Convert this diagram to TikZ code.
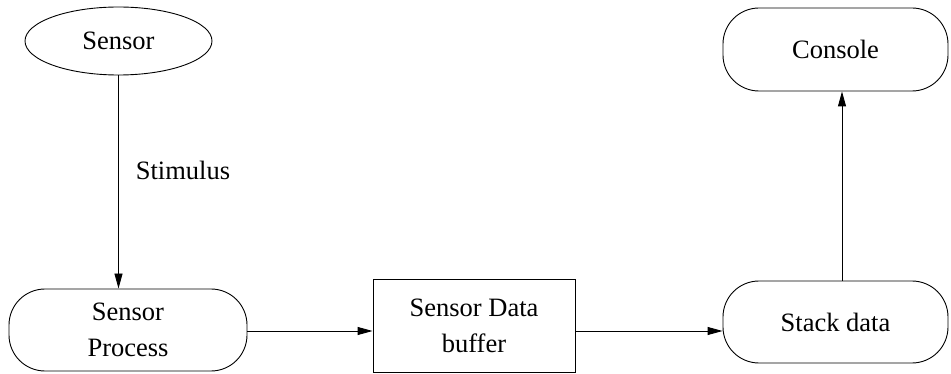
\documentclass[tikz,border=0pt]{standalone}
\usepackage{fontspec}
\setmainfont{Liberation Serif}
\usetikzlibrary{arrows.meta,shapes.geometric}
\begin{document}
\begin{tikzpicture}[x=1pt,y=-1pt,
  every node/.style={font=\fontsize{26.5}{36}\selectfont, align=center, inner sep=0pt},
  edge/.style={draw=black, line width=0.9pt},
  arr/.style={edge, -{Triangle[length=15pt,width=8pt]}},
  shapeline/.style={draw=black, line width=0.9pt}]
\useasboundingbox (0,0) rectangle (951,374);
% Sensor ellipse
\node[shapeline, ellipse, minimum width=187pt, minimum height=68pt] (sensor) at (118.5,41) {Sensor};
% Sensor Process
\node[shapeline, rounded corners=36pt, minimum width=238pt, minimum height=82pt] (sp) at (128,330) {Sensor\\Process};
% Buffer
\node[shapeline, minimum width=202pt, minimum height=93pt] (buf) at (474,325.5) {Sensor Data\\buffer};
% Stack data
\node[shapeline, rounded corners=36pt, minimum width=225pt, minimum height=82pt] (stack) at (835.5,322) {Stack data};
% Console
\node[shapeline, rounded corners=36pt, minimum width=225pt, minimum height=83pt] (console) at (835.5,49.5) {Console};
% Stimulus label
\node (stim) at (183,170) {Stimulus};
% connectors
\draw[arr] (sensor.south) -- (sp.north -| sensor.south);
\draw[arr] (sp.east |- 0,331) -- (buf.west |- 0,331);
\draw[arr] (buf.east |- 0,331) -- (stack.west |- 0,331);
\draw[arr] (stack.north -| 842,0) -- (console.south -| 842,0);
\end{tikzpicture}
\end{document}
